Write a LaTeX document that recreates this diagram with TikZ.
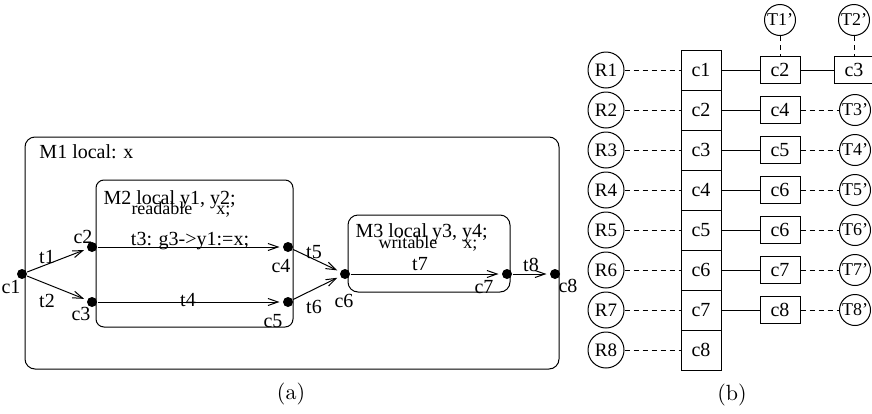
\documentclass[tikz,border=0pt]{standalone}
\usepackage{fontspec}
\setmainfont{Liberation Serif}
\newfontfamily\captfont{Latin Modern Roman}
\usepackage{tikz}
\usetikzlibrary{arrows.meta, positioning}

\begin{document}
\begin{tikzpicture}[x=0.5pt, y=-0.5pt, line width=0.5pt,
    txt/.style={font=\fontsize{10}{12}\selectfont, inner sep=0pt},
    small/.style={font=\fontsize{9}{10}\selectfont, inner sep=0pt},
    lbl/.style={txt, anchor=base},
    module/.style={rounded corners=5pt},
    dot/.style={circle, fill=black, inner sep=0pt, minimum size=5pt},
    arr/.style={-{Straight Barb[length=5pt,width=3.5pt]}, shorten >=1.5pt},
    cell/.style={draw, txt, minimum width=20pt, minimum height=20pt},
    sbox/.style={draw, txt, minimum width=20pt, minimum height=13.3pt},
    rcirc/.style={draw, circle, txt, font=\fontsize{9.5}{11}\selectfont, minimum size=18pt},
    tcirc/.style={draw, circle, txt, font=\fontsize{9}{10}\selectfont, minimum size=15.5pt},
    dashln/.style={dash pattern=on 2.5pt off 2pt},
    capt/.style={font=\captfont\fontsize{11}{13}\selectfont, inner sep=0pt}
    ]
\useasboundingbox (0,0) rectangle (872,413);

% (a) nested modules
\draw[module] (25,137) rectangle (559,369);
\draw[module, rounded corners=4pt] (96,180) rectangle (293,327);
\draw[module] (348,215) rectangle (510,292);
\node[txt, anchor=base west] (m1name) at (39,158) {M1 local: x};
\node[txt, anchor=base west] (m2name) at (103,204) {M2 local y1, y2;};
\node[small, anchor=base west] (m2read) at (131,214) {readable\hspace*{12pt}x;};
\node[txt, anchor=base west] (m3name) at (355,237) {M3 local y3, y4;};
\node[small, anchor=base west] (m3write) at (378,248) {writable\hspace*{13pt}x;};

% control points
\node[dot] (c1) at (22,274) {};
\node[dot] (c2) at (92,247) {};
\node[dot] (c3) at (92,302) {};
\node[dot] (c4) at (288,247) {};
\node[dot] (c5) at (288,302) {};
\node[dot] (c6) at (345,274) {};
\node[dot] (c7) at (507,274) {};
\node[dot] (c8) at (555,274) {};
\foreach \n/\x/\y in {1/11/293, 2/83/243, 3/81/320, 4/281/272, 5/273/327, 6/344/307, 7/484/293, 8/568/292}
  \node[lbl] (c\n name) at (\x,\y) {c\n};

% transitions
\draw[arr] (c1) -- (c2);
\draw[arr] (c1) -- (c3);
\draw[arr] (c2) -- (c4);
\draw[arr] (c3) -- (c5);
\draw[arr] (c4) -- (c6);
\draw[arr] (c5) -- (c6);
\draw[arr] (c6) -- (c7);
\draw[arr] (c7) -- (c8);
\node[lbl] (tr1) at (47,263) {t1};
\node[lbl] (tr2) at (47,307) {t2};
\node[lbl] (tr3) at (190,245) {t3: g3->y1:=x;};
\node[lbl] (tr4) at (188,306) {t4};
\node[lbl] (tr5) at (314,258) {t5};
\node[lbl] (tr6) at (314,313) {t6};
\node[lbl] (tr7) at (420,270) {t7};
\node[lbl] (tr8) at (531,271) {t8};
\node[capt] (capa) at (291,394) {(a)};

% (b) control point table
\foreach \i in {1,...,8} {
  \node[cell] (col\i) at (701,30+40*\i) {c\i};
  \node[rcirc] (R\i) at (606,30+40*\i) {R\i};
  \draw[dashln] (R\i) -- (col\i);
}
\node[sbox] (s1) at (780,70) {c2};
\node[sbox] (s1b) at (854,70) {c3};
\node[tcirc] (T1) at (780,20) {T1'};
\node[tcirc] (T1b) at (854,20) {T2'};
\draw (col1) -- (s1);
\draw (s1) -- (s1b);
\draw[dashln] (T1) -- (s1);
\draw[dashln] (T1b) -- (s1b);
\foreach \i/\cc in {2/c4, 3/c5, 4/c6, 5/c6, 6/c7, 7/c8} {
  \pgfmathtruncatemacro{\tn}{\i+1}
  \node[sbox] (s\i) at (780,30+40*\i) {\cc};
  \node[tcirc] (T\i) at (855,30+40*\i) {T\tn'};
  \draw (col\i) -- (s\i);
  \draw[dashln] (s\i) -- (T\i);
}
\node[capt] (capb) at (732,395) {(b)};
\end{tikzpicture}
\end{document}
